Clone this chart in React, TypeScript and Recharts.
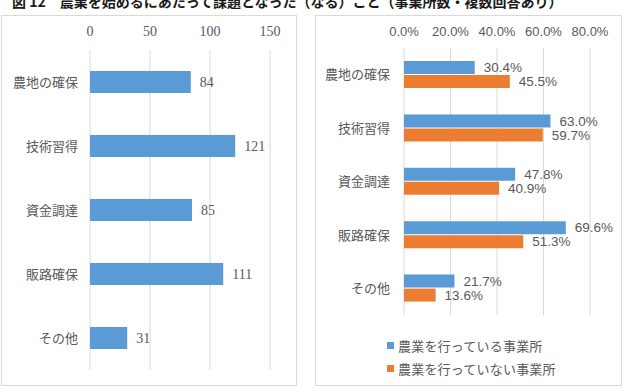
import { Bar, BarChart, CartesianGrid, LabelList, XAxis, YAxis } from "recharts";

const categories = ["農地の確保", "技術習得", "資金調達", "販路確保", "その他"];
const countValues = [84, 121, 85, 111, 31];
const countTicks = [0, 50, 100, 150];

const farmingRates = [30.4, 63.0, 47.8, 69.6, 21.7];
const nonFarmingRates = [45.5, 59.7, 40.9, 51.3, 13.6];
const rateTicks = [0, 20, 40, 60, 80];
const seriesNames = ["農業を行っている事業所", "農業を行っていない事業所"];

const title = "図 12　農業を始めるにあたって課題となった（なる）こと（事業所数・複数回答あり）";

const blue = "#5B9BD5";
const orange = "#ED7D31";
const grid = "#D9D9D9";
const textColor = "#595959";
const serif = "'Liberation Serif', 'Noto Sans CJK JP', serif";
const sans = "'Liberation Sans', 'Noto Sans CJK JP', sans-serif";

const countData = categories.map((name, i) => ({ name, count: countValues[i] }));
const rateData = categories.map((name, i) => ({ name, farming: farmingRates[i], nonFarming: nonFarmingRates[i] }));
const seriesColors = [blue, orange];

const fmtPct = (v: number) => `${Number(v).toFixed(1)}%`;

export default function App() {
  return (
    <div style={{ position: "absolute", left: 0, top: 0, width: 624, height: 389, overflow: "hidden", background: "#fff" }}>
      <div
        style={{
          position: "absolute",
          left: 12,
          top: -6,
          fontFamily: "'Noto Sans CJK JP', sans-serif",
          fontWeight: 700,
          fontSize: 14,
          lineHeight: "14px",
          whiteSpace: "nowrap",
          color: "#1a1a1a",
        }}
      >
        {title}
      </div>
      <div style={{ position: "absolute", left: 1, top: 15, width: 296, height: 371, border: `1px solid ${grid}`, boxSizing: "border-box" }} />
      <div style={{ position: "absolute", left: 315, top: 15, width: 307, height: 371, border: `1px solid ${grid}`, boxSizing: "border-box" }} />

      <div style={{ position: "absolute", left: 0, top: 0 }}>
        <BarChart width={300} height={389} data={countData} layout="vertical" margin={{ top: 20, right: 30, bottom: 19, left: 0 }}>
          <CartesianGrid horizontal={false} stroke={grid} />
          <XAxis
            type="number"
            orientation="top"
            domain={[0, 150]}
            ticks={countTicks}
            height={30}
            axisLine={false}
            tickLine={false}
            tickMargin={8}
            tick={{ fill: textColor, fontSize: 14, fontFamily: serif }}
          />
          <YAxis
            type="category"
            dataKey="name"
            width={90}
            axisLine={false}
            tickLine={false}
            tickMargin={6}
            tick={{ fill: textColor, fontSize: 13, fontFamily: serif }}
          />
          <Bar dataKey="count" fill={blue} barSize={22} isAnimationActive={false}>
            <LabelList dataKey="count" position="right" offset={9} fill={textColor} fontSize={14} fontFamily={serif} />
          </Bar>
        </BarChart>
      </div>

      <div style={{ position: "absolute", left: 312, top: 0 }}>
        <BarChart
          width={312}
          height={389}
          data={rateData}
          layout="vertical"
          barGap={1}
          margin={{ top: 20, right: 34, bottom: 74, left: 0 }}
        >
          <CartesianGrid horizontal={false} stroke={grid} />
          <XAxis
            type="number"
            orientation="top"
            domain={[0, 80]}
            ticks={rateTicks}
            tickFormatter={fmtPct}
            height={28}
            axisLine={false}
            tickLine={false}
            tickMargin={6}
            tick={{ fill: textColor, fontSize: 13, fontFamily: sans }}
          />
          <YAxis
            type="category"
            dataKey="name"
            width={92}
            axisLine={false}
            tickLine={false}
            tickMargin={8}
            tick={{ fill: textColor, fontSize: 13, fontFamily: sans }}
          />
          <Bar dataKey="farming" name={seriesNames[0]} fill={blue} barSize={13} isAnimationActive={false}>
            <LabelList dataKey="farming" position="right" offset={9} formatter={fmtPct} fill={textColor} fontSize={13.5} fontFamily={sans} />
          </Bar>
          <Bar dataKey="nonFarming" name={seriesNames[1]} fill={orange} barSize={13} isAnimationActive={false}>
            <LabelList dataKey="nonFarming" position="right" offset={9} formatter={fmtPct} fill={textColor} fontSize={13.5} fontFamily={sans} />
          </Bar>
        </BarChart>
      </div>

      <div style={{ position: "absolute", left: 387, top: 334, fontFamily: sans, fontSize: 13, color: textColor }}>
        {seriesNames.map((name, i) => (
          <div key={name} style={{ display: "flex", alignItems: "center", height: 23 }}>
            <span style={{ width: 7, height: 7, background: seriesColors[i], marginRight: 4 }} />
            <span style={{ letterSpacing: 0.2 }}>{name}</span>
          </div>
        ))}
      </div>
    </div>
  );
}
